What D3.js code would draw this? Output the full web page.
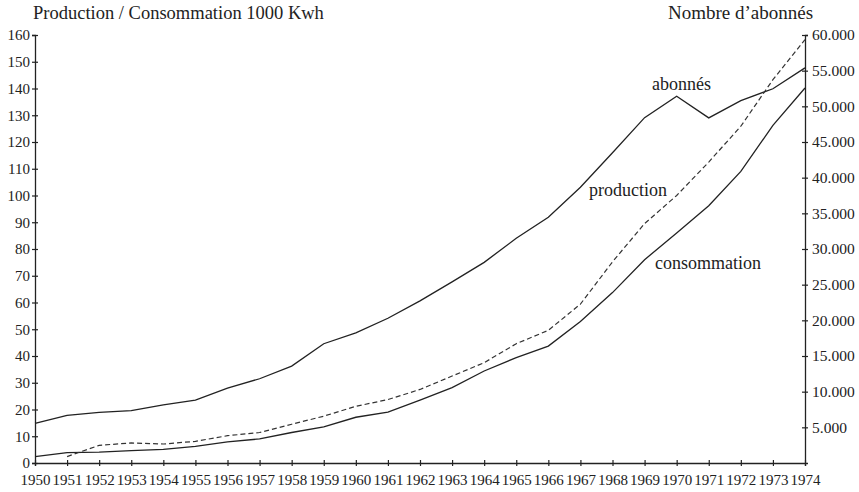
<!DOCTYPE html>
<html>
<head>
<meta charset="utf-8">
<script src="https://cdn.jsdelivr.net/npm/d3@7"></script>
<style>
  body { margin: 0; background: #fff; }
  svg text { font-family: "Liberation Serif", "DejaVu Serif", serif; fill: #222; }
</style>
</head>
<body>
<div id="chart"></div>
<script>
// data
const years = d3.range(1950, 1975);
const abonnes = [5570, 6690, 7090, 7350, 8160, 8810, 10500, 11810, 13580, 16720, 18230, 20290,
  22730, 25390, 28130, 31500, 34460, 38660, 43500, 48410, 51410, 48380, 50810, 52460, 55390];
const production = [null, 2.4, 6.6, 7.5, 7.1, 8.1, 10.2, 11.4, 14.5, 17.5, 21.2, 23.7, 27.5,
  32.5, 37.5, 44.6, 49.6, 59.4, 75.2, 89.5, 100, 112.5, 125.9, 143.3, 158.3];
const consommation = [2.4, 3.9, 4.1, 4.6, 5.1, 6.2, 7.9, 9.0, 11.4, 13.5, 17.1, 19.0, 23.5,
  28.2, 34.4, 39.4, 43.7, 52.9, 63.7, 76.0, 86.0, 96.2, 109.0, 126.2, 140.2];
const leftTicks = d3.range(0, 161, 10);
const rightTicks = d3.range(5000, 60001, 5000);

const W = 859, H = 492;
const m = { top: 35, right: 54, bottom: 29, left: 35 };

const svg = d3.select("#chart").append("svg")
  .attr("width", W)
  .attr("height", H);

const x = d3.scaleLinear().domain([1950, 1974]).range([m.left, W - m.right]);
const yL = d3.scaleLinear().domain([0, 160]).range([H - m.bottom, m.top]);
const yR = d3.scaleLinear().domain([0, 60000]).range([H - m.bottom, m.top]);

const fs = "15px";
const fsBig = "18.5px";

// x axis
const gx = svg.append("g")
  .attr("transform", `translate(0,${H - m.bottom})`)
  .call(d3.axisBottom(x).tickValues(years).tickFormat(d3.format("d")).tickSize(3).tickPadding(8));
gx.selectAll(".tick line").attr("y1", -3).attr("y2", 3);

// left axis
const gl = svg.append("g")
  .attr("transform", `translate(${m.left},0)`)
  .call(d3.axisLeft(yL).tickValues(leftTicks).tickSize(3).tickPadding(2));
gl.selectAll(".tick line").attr("x1", -3).attr("x2", 3);

// right axis
const gr = svg.append("g")
  .attr("transform", `translate(${W - m.right},0)`)
  .call(d3.axisRight(yR).tickValues(rightTicks).tickSize(3).tickPadding(4)
    .tickFormat(d => d3.format(",")(d).replace(/,/g, ".")));
gr.selectAll(".tick line").attr("x1", -3).attr("x2", 3);

[gx, gl, gr].forEach(g => {
  g.select(".domain").attr("stroke", "#222").attr("stroke-width", 1.3);
  g.selectAll(".tick line").attr("stroke", "#222").attr("stroke-width", 1.2);
  g.selectAll(".tick text").style("font-size", fs).attr("fill", "#222")
    .style("font-family", "'Liberation Serif', serif");
});
gr.selectAll(".tick text").style("font-size", "15.5px");

// lines
const lineL = d3.line()
  .defined(d => d != null)
  .x((d, i) => x(years[i]))
  .y(d => yL(d));
const lineR = d3.line()
  .x((d, i) => x(years[i]))
  .y(d => yR(d));

svg.append("path").datum(abonnes)
  .attr("fill", "none").attr("stroke", "#222").attr("stroke-width", 1.3)
  .attr("d", lineR);
svg.append("path").datum(consommation)
  .attr("fill", "none").attr("stroke", "#222").attr("stroke-width", 1.3)
  .attr("d", lineL);
svg.append("path").datum(production)
  .attr("fill", "none").attr("stroke", "#333").attr("stroke-width", 1.2)
  .attr("stroke-dasharray", "5,3")
  .attr("d", lineL);

// titles
svg.append("text").attr("x", 33).attr("y", 19).style("font-size", fsBig)
  .text("Production / Consommation 1000 Kwh");
svg.append("text").attr("x", 668).attr("y", 19).style("font-size", "19px")
  .text("Nombre d\u2019abonnés");

// series labels
svg.append("text").attr("x", 652).attr("y", 90).style("font-size", "18px").text("abonnés");
svg.append("text").attr("x", 589).attr("y", 196).style("font-size", "18px").text("production");
svg.append("text").attr("x", 655).attr("y", 269).style("font-size", "18px").text("consommation");
</script>
</body>
</html>
